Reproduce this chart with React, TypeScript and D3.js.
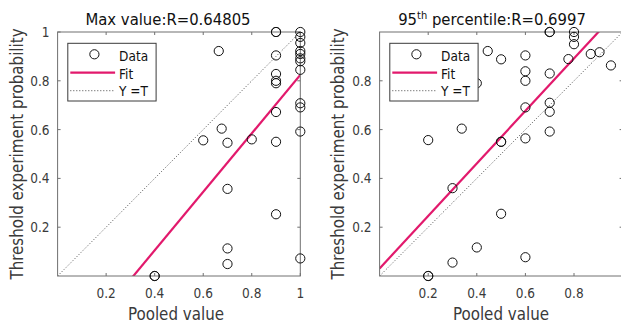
import React from "react";
import * as d3 from "d3";

const maxX = [0.4, 0.4, 0.664, 0.6, 0.676, 0.7, 0.7, 0.7, 0.7, 0.8, 0.9, 0.9, 0.9, 0.9, 0.9, 0.9, 0.9, 0.9, 0.9, 1, 1, 1, 1, 1, 1, 1, 1, 1, 1, 1, 1];
const maxY = [0, 0, 0.922, 0.556, 0.604, 0.546, 0.357, 0.113, 0.049, 0.56, 1, 1, 0.904, 0.828, 0.8, 0.79, 0.672, 0.55, 0.253, 1.0, 0.98, 0.955, 0.922, 0.91, 0.892, 0.88, 0.845, 0.708, 0.691, 0.592, 0.072];

const pctX = [0.2, 0.2, 0.2, 0.3, 0.3, 0.338, 0.4, 0.4, 0.445, 0.5, 0.5, 0.5, 0.5, 0.6, 0.6, 0.6, 0.6, 0.6, 0.6, 0.7, 0.7, 0.7, 0.7, 0.7, 0.7, 0.8, 0.8, 0.8, 0.777, 0.869, 0.905, 0.952];
const pctY = [0, 0, 0.557, 0.36, 0.055, 0.604, 0.117, 0.79, 0.922, 0.888, 0.55, 0.55, 0.255, 0.904, 0.839, 0.8, 0.691, 0.564, 0.077, 1, 1, 0.83, 0.71, 0.673, 0.592, 1, 0.98, 0.95, 0.889, 0.91, 0.917, 0.863];

// fit lines: [slope, intercept]
const maxFit = [1.198, -0.374];
const pctFit = [1.076, 0.031];

const xTicksMax = [0.2, 0.4, 0.6, 0.8, 1];
const xTicksPct = [0.2, 0.4, 0.6, 0.8];
const yTicksMax = [0.2, 0.4, 0.6, 0.8, 1];
const yTicksPct = [0.2, 0.4, 0.6, 0.8];
const legendLabels = ["Data", "Fit", "Y =T"];

const FONT = "'DejaVu Sans Condensed', 'DejaVu Sans', sans-serif";
const FIT_COLOR = "#e2196c";
const AXIS_COLOR = "#707070";
const TEXT_COLOR = "#3a3a3a";

type PanelProps = {
  id: string;
  x0: number;
  x1: number;
  xs: number[];
  ys: number[];
  fit: number[];
  xTicks: number[];
  yTicks: number[];
  title: React.ReactNode;
  titleX: number;
  ylabelX: number;
  xlabelX: number;
};

function Panel({ id, x0, x1, xs, ys, fit, xTicks, yTicks, title, titleX, ylabelX, xlabelX }: PanelProps) {
  const top = 32;
  const bottom = 276;
  const x = d3.scaleLinear().domain([0, 1]).range([x0, x1]);
  const y = d3.scaleLinear().domain([0, 1]).range([bottom, top]);
  const tl = 3;
  const fitLine = d3.line<number>().x((d) => x(d)).y((d) => y(fit[0] * d + fit[1]));
  const diag = d3.line<number>().x((d) => x(d)).y((d) => y(d));
  const lx = x0 + 10.2;
  const ly = 43.3;
  return (
    <g fontFamily={FONT} style={{ fontStretch: "condensed" }}>
      <defs>
        <clipPath id={id}>
          <rect x={x0} y={top} width={x1 - x0} height={bottom - top} />
        </clipPath>
      </defs>
      <rect x={x0} y={top} width={x1 - x0} height={bottom - top} fill="#fff" />
      <g clipPath={`url(#${id})`}>
        <path d={diag([0, 1]) ?? ""} fill="none" stroke="#333" strokeWidth={0.9} strokeDasharray="1 2" />
        <path d={fitLine([0, 1]) ?? ""} fill="none" stroke={FIT_COLOR} strokeWidth={2.2} />
      </g>
      {/* frame */}
      <rect x={x0} y={top} width={x1 - x0} height={bottom - top} fill="none" stroke={AXIS_COLOR} strokeWidth={1} />
      {xTicks.map((t) => (
        <g key={"x" + t}>
          <line x1={x(t)} x2={x(t)} y1={bottom} y2={bottom - tl} stroke={AXIS_COLOR} />
          <line x1={x(t)} x2={x(t)} y1={top} y2={top + tl} stroke={AXIS_COLOR} />
          <text x={x(t)} y={298} textAnchor="middle" fontSize={13.5} fill={TEXT_COLOR}>
            {d3.format("~g")(t)}
          </text>
        </g>
      ))}
      {yTicks.map((t) => (
        <g key={"y" + t}>
          <line x1={x0} x2={x0 + tl} y1={y(t)} y2={y(t)} stroke={AXIS_COLOR} />
          <line x1={x1} x2={x1 - tl} y1={y(t)} y2={y(t)} stroke={AXIS_COLOR} />
          <text x={x0 - 8} y={y(t) + 5} textAnchor="end" fontSize={13.5} fill={TEXT_COLOR}>
            {d3.format("~g")(t)}
          </text>
        </g>
      ))}
      {xs.map((d, i) => (
        <circle key={i} cx={x(d)} cy={y(ys[i])} r={4.6} fill="none" stroke="#111" strokeWidth={1} />
      ))}
      <text x={titleX} y={24.5} textAnchor="middle" fontSize={16.5} fill="#111">
        {title}
      </text>
      <text x={xlabelX} y={320} textAnchor="middle" fontSize={16.8} fill={TEXT_COLOR}>
        Pooled value
      </text>
      <text
        transform={`translate(${ylabelX},${(top + bottom) / 2}) rotate(-90)`}
        textAnchor="middle"
        fontSize={16.8}
        fill={TEXT_COLOR}
      >
        Threshold experiment probability
      </text>
      {/* legend */}
      <rect x={lx} y={ly} width={88.3} height={57.7} fill="#fff" stroke="#3a3a3a" strokeWidth={1} />
      <circle cx={lx + 26.6} cy={ly + 11} r={4.6} fill="none" stroke="#111" />
      <line x1={lx + 2.5} x2={lx + 47.3} y1={ly + 29.4} y2={ly + 29.4} stroke={FIT_COLOR} strokeWidth={2.2} />
      <line x1={lx + 2.5} x2={lx + 47.3} y1={ly + 47.4} y2={ly + 47.4} stroke="#333" strokeWidth={0.9} strokeDasharray="1 2" />
      {legendLabels.map((s, i) => (
        <text key={s} x={lx + 51.3} y={ly + 17.7 + i * 17.5} fontSize={13.5} fill="#111">
          {s}
        </text>
      ))}
    </g>
  );
}

export default function App() {
  return (
    <svg
      width={621}
      height={326}
      style={{ position: "absolute", left: 0, top: 0, background: "#fff" }}
    >
      <rect width={621} height={326} fill="#fff" />
      <Panel
        id="clipA"
        x0={57.6}
        x1={300.3}
        xs={maxX}
        ys={maxY}
        fit={maxFit}
        xTicks={xTicksMax}
        yTicks={yTicksMax}
        title="Max value:R=0.64805"
        titleX={168}
        ylabelX={23}
        xlabelX={176}
      />
      <Panel
        id="clipB"
        x0={379.6}
        x1={622.6}
        xs={pctX}
        ys={pctY}
        fit={pctFit}
        xTicks={xTicksPct}
        yTicks={yTicksPct}
        title={
          <>
            <tspan>95</tspan>
            <tspan dy={-6} fontSize={11}>th</tspan>
            <tspan dy={6}> percentile:R=0.6997</tspan>
          </>
        }
        titleX={492}
        ylabelX={344}
        xlabelX={501}
      />
    </svg>
  );
}
